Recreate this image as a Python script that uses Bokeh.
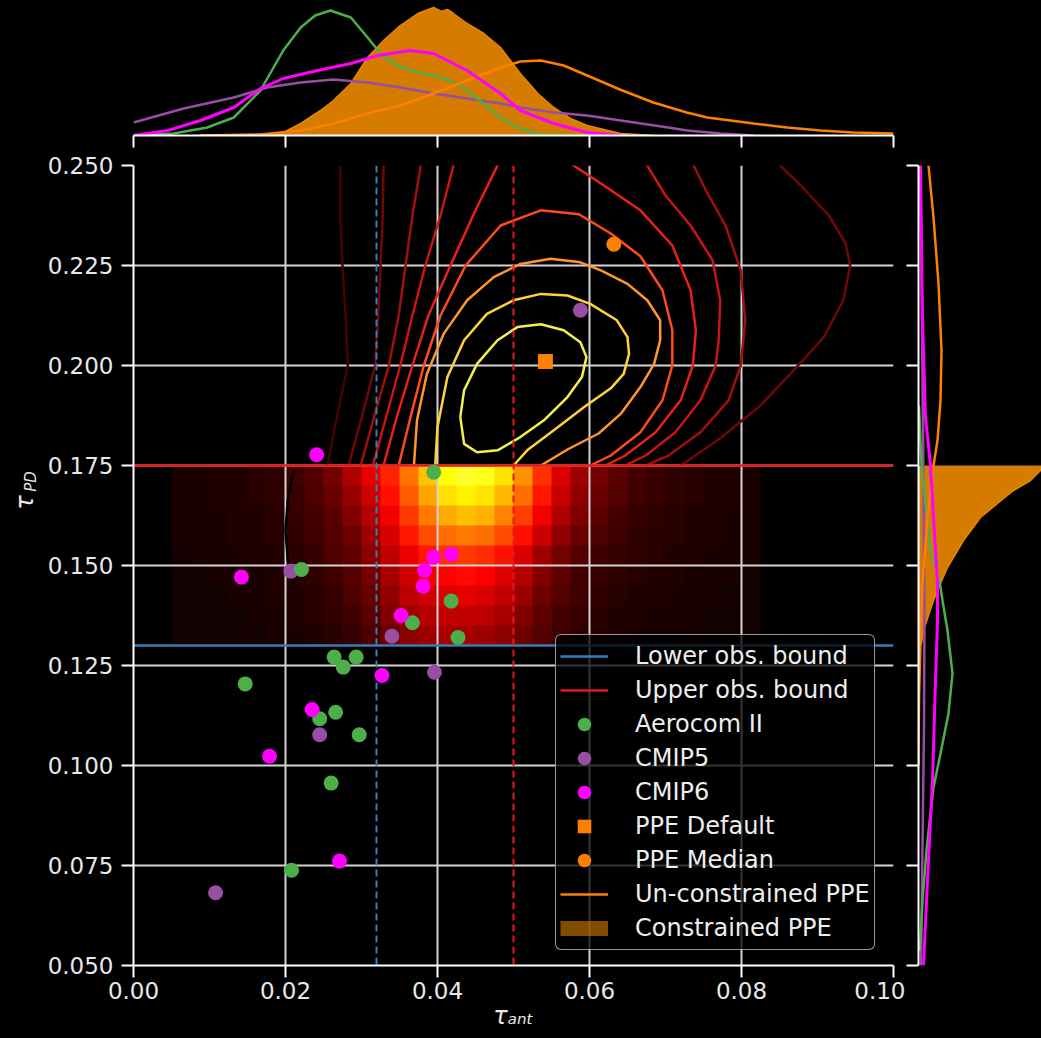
import numpy as np
from bokeh.plotting import figure
from bokeh.layouts import column, row
from bokeh.models import (FixedTicker, NumeralTickFormatter, CustomJSTickFormatter, Label,
                          Legend, LegendItem, LinearColorMapper, Spacer, Range1d, ColumnDataSource)
from bokeh.embed import file_html
from bokeh.resources import INLINE

# ---------------- data ----------------
lower_obs = 0.13
upper_obs = 0.175
lower_ant = 0.032
upper_ant = 0.05

aerocom_x = [0.0395, 0.0221, 0.0418, 0.0367, 0.0427, 0.0264, 0.0293, 0.0276, 0.0147, 0.0266, 0.0245, 0.0297, 0.0260, 0.0208]
aerocom_y = [0.1733, 0.1490, 0.1411, 0.1357, 0.1320, 0.1271, 0.1271, 0.1246, 0.1204, 0.1133, 0.1117, 0.1077, 0.0956, 0.0738]
cmip5_x = [0.0588, 0.0207, 0.0340, 0.0396, 0.0245, 0.0108]
cmip5_y = [0.2138, 0.1486, 0.1323, 0.1233, 0.1077, 0.0682]
cmip6_x = [0.0241, 0.0142, 0.0395, 0.0418, 0.0383, 0.0381, 0.0352, 0.0327, 0.0235, 0.0179, 0.0271]
cmip6_y = [0.1777, 0.1471, 0.1521, 0.1528, 0.1488, 0.1448, 0.1375, 0.1225, 0.1140, 0.1023, 0.0761]
ppe_default_x = [0.0542]
ppe_default_y = [0.2010]
ppe_median_x = [0.0632]
ppe_median_y = [0.2303]

# 2-D histogram of the constrained PPE (rows top -> bottom, % of colour scale)
hist_x0, hist_x1 = 0.005, 0.0825
hist_y0, hist_y1 = 0.13, 0.175
hist_rows = [
    [4,4,5,5,6,7,9,12,17,25,33,42,54,66,75,79,77,70,58,44,32,23,17,13,10,8,7,6,5,5,4],
    [4,4,5,5,6,7,8,11,15,22,30,39,50,61,70,73,71,64,53,40,29,21,15,12,9,8,7,6,5,5,4],
    [4,4,4,5,5,6,8,10,13,19,26,35,45,55,62,65,63,56,46,35,25,18,13,10,8,7,6,5,5,4,4],
    [4,4,4,5,5,6,7,9,12,16,23,31,40,48,53,55,53,48,39,29,21,15,11,9,7,6,6,5,5,4,4],
    [3,4,4,4,5,5,6,8,11,14,20,27,34,40,44,45,43,39,31,23,17,12,9,8,7,6,5,5,4,4,4],
    [3,3,4,4,4,5,6,7,9,12,17,24,30,35,37,38,36,32,26,19,14,10,8,7,6,5,5,4,4,4,3],
    [3,3,3,4,4,5,5,6,8,11,15,21,27,30,32,33,31,28,22,16,12,9,7,6,5,5,4,4,4,3,3],
    [3,3,3,3,4,4,5,6,7,9,13,18,23,26,28,28,27,24,19,14,10,8,6,5,5,4,4,4,3,3,3],
    [3,3,3,3,3,4,4,5,6,8,11,15,20,23,24,24,23,20,16,12,9,7,6,5,4,4,4,3,3,3,3],
]

# KDE contour lines of the un-constrained PPE (inner -> outer)
contour_xs = [
    [0.0430,0.0435,0.0452,0.0479,0.0505,0.0536,0.0566,0.0588,0.0596,0.0590,0.0571,0.0540,0.0509,0.0479,0.0452,0.0435,0.0430],
    [0.0397,0.0400,0.0413,0.0435,0.0465,0.0500,0.0536,0.0571,0.0601,0.0636,0.0650,0.0652,0.0645,0.0628,0.0593,0.0553,0.0518,0.0500],
    [0.0369,0.0373,0.0386,0.0408,0.0439,0.0474,0.0509,0.0549,0.0588,0.0615,0.0650,0.0676,0.0693,0.0693,0.0685,0.0667,0.0641,0.0612,0.0571,0.0536],
    [0.0349,0.0365,0.0382,0.0404,0.0437,0.0483,0.0536,0.0586,0.0628,0.0667,0.0696,0.0709,0.0709,0.0696,0.0667,0.0628,0.0601],
    [0.0329,0.0347,0.0367,0.0388,0.0417,0.0450,0.0479,0.0487,0.0571,0.0579,0.0615,0.0667,0.0709,0.0733,0.0740,0.0736,0.0720,0.0687,0.0647,0.0621],
    [0.0315,0.0333,0.0351,0.0367,0.0384,0.0404,0.0421,0.0428,0.0670,0.0676,0.0700,0.0733,0.0762,0.0772,0.0770,0.0766,0.0746,0.0713,0.0674,0.0647],
    [0.0299,0.0317,0.0336,0.0349,0.0358,0.0367,0.0378,0.0380,0.0730,0.0737,0.0753,0.0779,0.0799,0.0805,0.0799,0.0783,0.0746,0.0704,0.0674],
    [0.0283,0.0301,0.0318,0.0322,0.0325,0.0328,0.0329,0.0329,0.0845,0.0851,0.0878,0.0915,0.0937,0.0943,0.0934,0.0908,0.0871,0.0825,0.0772,0.0720],
    [0.0255,0.0268,0.0282,0.0279,0.0275,0.0272,0.0272,0.0272],
    [0.0211,0.0203,0.0200,0.0203,0.0211],
]
contour_ys = [
    [0.1871,0.1938,0.2004,0.2063,0.2096,0.2103,0.2088,0.2058,0.2021,0.1971,0.1921,0.1863,0.1821,0.1788,0.1783,0.1804,0.1871],
    [0.1750,0.1846,0.1971,0.2063,0.2129,0.2163,0.2179,0.2175,0.2154,0.2113,0.2071,0.2029,0.1979,0.1943,0.1896,0.1838,0.1788,0.1750],
    [0.1750,0.1863,0.1979,0.2079,0.2163,0.2221,0.2254,0.2267,0.2258,0.2238,0.2204,0.2163,0.2113,0.2063,0.2004,0.1946,0.1879,0.1830,0.1790,0.1750],
    [0.1750,0.1875,0.2000,0.2125,0.2250,0.2350,0.2388,0.2378,0.2330,0.2273,0.2188,0.2088,0.2000,0.1913,0.1833,0.1775,0.1750],
    [0.1750,0.1875,0.2000,0.2125,0.2250,0.2388,0.2500,0.2538,0.2538,0.2500,0.2455,0.2388,0.2300,0.2188,0.2088,0.2000,0.1913,0.1833,0.1775,0.1750],
    [0.1750,0.1875,0.2000,0.2125,0.2250,0.2375,0.2500,0.2538,0.2538,0.2500,0.2425,0.2350,0.2263,0.2163,0.2063,0.2000,0.1913,0.1833,0.1775,0.1750],
    [0.1750,0.1875,0.2000,0.2125,0.2250,0.2375,0.2500,0.2538,0.2538,0.2500,0.2438,0.2350,0.2238,0.2113,0.2000,0.1913,0.1833,0.1775,0.1750],
    [0.1750,0.1875,0.2000,0.2125,0.2250,0.2375,0.2500,0.2538,0.2538,0.2500,0.2450,0.2375,0.2305,0.2250,0.2163,0.2070,0.1993,0.1900,0.1818,0.1750],
    [0.1750,0.1875,0.2000,0.2125,0.2250,0.2375,0.2500,0.2538],
    [0.1738,0.1663,0.1588,0.1513,0.1450],
]

# top marginal (tau_ant densities, heights in panel units)
aerocom_top_x = [0, 0.0053, 0.0097, 0.0132, 0.0167, 0.0197, 0.0220, 0.0239, 0.0259, 0.0286, 0.0308, 0.0325, 0.0342, 0.0364, 0.0395, 0.0417, 0.0439, 0.0460, 0.0483, 0.0509, 0.0535, 0.058]
aerocom_top_h = [0, 2, 8, 18, 45, 85, 108, 120, 125, 118, 98, 82, 72, 65, 60, 55, 45, 32, 18, 7, 1, 0]
cmip5_top_x = [0, 0.0066, 0.0132, 0.0176, 0.0220, 0.0263, 0.0308, 0.0351, 0.0395, 0.0439, 0.0483, 0.0509, 0.0553, 0.0597, 0.0641, 0.0686, 0.0729, 0.0772, 0.0816]
cmip5_top_h = [13, 27, 38, 48, 53, 56, 53, 48, 42, 37, 32, 28, 23, 20, 15, 10, 5, 2, 0]
cmip6_top_x = [0, 0.0045, 0.0088, 0.0132, 0.0167, 0.0197, 0.0242, 0.0286, 0.0321, 0.0364, 0.0395, 0.0439, 0.0483, 0.0509, 0.0553, 0.0597, 0.0641]
cmip6_top_h = [0, 5, 15, 28, 47, 57, 65, 72, 80, 85, 82, 65, 42, 25, 12, 3, 0]
unc_top_x = [0.0088, 0.0167, 0.0220, 0.0263, 0.0308, 0.0351, 0.0395, 0.0439, 0.0483, 0.0509, 0.0536, 0.0566, 0.0597, 0.0640, 0.0684, 0.0728, 0.0755, 0.0816, 0.0860, 0.0904, 0.0947, 0.1]
unc_top_h = [0, 1, 5, 12, 22, 30, 42, 55, 68, 74, 75, 70, 60, 46, 33, 23, 18, 12, 8, 5, 3, 2]
con_top_x = [0.0132, 0.0167, 0.0197, 0.0220, 0.0246, 0.0263, 0.0286, 0.0308, 0.0329, 0.0351, 0.0374, 0.0395, 0.0405, 0.0413, 0.0421, 0.0439, 0.0461, 0.0483, 0.0509, 0.0532, 0.0553, 0.0575, 0.0597, 0.0641, 0.0684]
con_top_h = [0, 1, 3, 12, 25, 35, 52, 78, 95, 110, 122, 128, 124, 126, 122, 112, 102, 88, 62, 42, 28, 17, 10, 2, 0]

# right marginal (tau_PD densities, widths in panel units)
unc_right_y = [0.25, 0.237, 0.2205, 0.20375, 0.19125, 0.18125, 0.175, 0.162, 0.1455, 0.13125, 0.11625, 0.10]
unc_right_w = [10, 15, 20, 23, 22, 19, 15, 9, 4, 2, 0.5, 0]
cmip6_right_y = [0.25, 0.212, 0.187, 0.175, 0.162, 0.1455, 0.1363, 0.1213, 0.0963, 0.0713, 0.05]
cmip6_right_w = [2, 4, 7, 12, 15, 19, 19, 17, 14, 9, 5]
aerocom_right_y = [0.19, 0.175, 0.1705, 0.15375, 0.14625, 0.14125, 0.13375, 0.123, 0.113, 0.103, 0.0945, 0.088, 0.07875, 0.06625, 0.05375]
aerocom_right_w = [0.5, 3, 5, 12, 21, 24, 29, 34, 30, 22, 15, 12, 8, 4, 1.5]
cmip5_right_y = [0.25, 0.21, 0.17, 0.14, 0.11, 0.08, 0.05]
cmip5_right_w = [2, 3.5, 5, 6, 5.5, 4, 2.5]
con_right_y = [0.175, 0.17375, 0.17125, 0.16875, 0.1655, 0.162, 0.15625, 0.1495, 0.1455, 0.14125, 0.13375, 0.1305, 0.129]
con_right_w = [124, 122, 112, 95, 79, 62, 45, 29, 22, 15, 5, 3, 0]

x_ticks = [0.0, 0.02, 0.04, 0.06, 0.08, 0.10]
y_ticks = [0.05, 0.075, 0.10, 0.125, 0.15, 0.175, 0.20, 0.225, 0.25]

# ---------------- style ----------------
BLUE = "#377eb8"; RED = "#e41a1c"; GREEN = "#4daf4a"; PURPLE = "#984ea3"
MAGENTA = "#ff00ff"; ORANGE = "#ff7f00"; FILL = "#d47b00"
TXT = "#e8e8e8"; FONT = "DejaVu Sans"
contour_colors = ["#f4f04a", "#ffd23c", "#ff962a", "#ff4a1a", "#e8201a", "#c81414",
                  "#a00e0e", "#6e0808", "#420404", "#000000"]

def hot(f):
    r = min(1.0, f / 0.365)
    g = min(1.0, max(0.0, (f - 0.365) / 0.381))
    b = min(1.0, max(0.0, (f - 0.746) / 0.254))
    return "#%02x%02x%02x" % (int(r * 255), int(g * 255), int(b * 255))

hot_palette = [hot(i / 255) for i in range(256)]

xr = Range1d(0, 0.1)
yr = Range1d(0.05, 0.25)

common = dict(output_backend="svg", toolbar_location=None, background_fill_color="black",
              border_fill_color="black", outline_line_color=None)

def style_axis(ax, labels=True):
    ax.axis_line_color = "white"
    ax.axis_line_width = 2
    ax.major_tick_line_color = "white"
    ax.major_tick_line_width = 2
    ax.major_tick_out = 12
    ax.major_tick_in = 0
    ax.minor_tick_line_color = None
    if labels:
        ax.major_label_text_color = TXT
        ax.major_label_text_font = FONT
        ax.major_label_text_font_size = "23px"
    else:
        ax.formatter = CustomJSTickFormatter(code="return ''")
        ax.major_label_text_font_size = "0px"
        ax.major_label_standoff = 0

# ---------------- main panel ----------------
main = figure(width=863, height=888, x_range=xr, y_range=yr,
              min_border_left=91, min_border_right=12, min_border_top=15, min_border_bottom=73,
              **common)
main.xaxis.ticker = FixedTicker(ticks=x_ticks)
main.yaxis.ticker = FixedTicker(ticks=y_ticks)
main.xaxis.formatter = NumeralTickFormatter(format="0.00")
main.yaxis.formatter = NumeralTickFormatter(format="0.000")
style_axis(main.xaxis[0]); style_axis(main.yaxis[0])
main.xaxis.major_label_standoff = 4
main.yaxis.major_label_standoff = 8
main.xaxis.axis_label = "τₐₙₜ"
main.xaxis.axis_label_text_font = FONT
main.xaxis.axis_label_text_font_style = "italic"
main.xaxis.axis_label_text_font_size = "24px"
main.xaxis.axis_label_text_color = TXT
main.xaxis.axis_label_standoff = 0
main.xgrid.ticker = FixedTicker(ticks=x_ticks)
main.ygrid.ticker = FixedTicker(ticks=y_ticks)
main.grid.grid_line_color = "#d4d4d4"
main.grid.grid_line_width = 2

img = np.array(hist_rows[::-1], dtype=float)
mapper = LinearColorMapper(palette=hot_palette, low=0, high=100)
main.image(image=[img], x=hist_x0, y=hist_y0, dw=hist_x1 - hist_x0, dh=hist_y1 - hist_y0,
           color_mapper=mapper, level="image")

csrc = ColumnDataSource(dict(xs=contour_xs, ys=contour_ys, c=contour_colors))
main.multi_line(xs="xs", ys="ys", line_color="c", line_width=2.5, line_join="round", source=csrc)

main.hspan(y=[lower_obs], line_color=BLUE, line_width=2.5)
main.hspan(y=[upper_obs], line_color=RED, line_width=2.5)
main.vspan(x=[lower_ant], line_color=BLUE, line_width=2, line_dash="7 4")
main.vspan(x=[upper_ant], line_color=RED, line_width=2, line_dash="7 4")

r_c5 = main.scatter(cmip5_x, cmip5_y, marker="circle", size=15, fill_color=PURPLE, fill_alpha=1.0, line_color=None)
r_ae = main.scatter(aerocom_x, aerocom_y, marker="circle", size=15, fill_color=GREEN, fill_alpha=1.0, line_color=None)
r_c6 = main.scatter(cmip6_x, cmip6_y, marker="circle", size=15, fill_color=MAGENTA, fill_alpha=1.0, line_color=None)
r_def = main.scatter(ppe_default_x, ppe_default_y, marker="square", size=15, fill_color=ORANGE, fill_alpha=1.0, line_color=None)
r_med = main.scatter(ppe_median_x, ppe_median_y, marker="circle", size=15, fill_color=ORANGE, fill_alpha=1.0, line_color=None)

nan = [float("nan")]
l_low = main.line(nan, nan, line_color=BLUE, line_width=2.5)
l_up = main.line(nan, nan, line_color=RED, line_width=2.5)
l_unc = main.line(nan, nan, line_color=ORANGE, line_width=2.5)
l_con = main.line(nan, nan, line_color=FILL, line_alpha=0.62, line_width=15, line_cap="butt")

legend = Legend(items=[
    LegendItem(label="Lower obs. bound", renderers=[l_low]),
    LegendItem(label="Upper obs. bound", renderers=[l_up]),
    LegendItem(label="Aerocom II", renderers=[r_ae]),
    LegendItem(label="CMIP5", renderers=[r_c5]),
    LegendItem(label="CMIP6", renderers=[r_c6]),
    LegendItem(label="PPE Default", renderers=[r_def]),
    LegendItem(label="PPE Median", renderers=[r_med]),
    LegendItem(label="Un-constrained PPE", renderers=[l_unc]),
    LegendItem(label="Constrained PPE", renderers=[l_con]),
], location=(422, 15))
legend.label_text_font = FONT
legend.label_text_font_size = "24px"
legend.label_text_color = "#eeeeee"
legend.glyph_width = 48
legend.glyph_height = 34
legend.label_height = 34
legend.label_standoff = 27
legend.spacing = 0
legend.padding = 4
legend.margin = 0
legend.background_fill_color = "black"
legend.background_fill_alpha = 0.75
legend.border_line_color = "#aaaaaa"
legend.border_line_width = 1.5
legend.border_line_alpha = 0.9
legend.border_radius = 6
main.add_layout(legend)

# ---------------- y-axis label strip ----------------
ylab = figure(width=42, height=888, x_range=Range1d(0, 1), y_range=Range1d(0, 1),
              x_axis_location=None, y_axis_location=None, min_border=0, **common)
ylab.grid.visible = False
lab = dict(x_units="screen", y_units="screen", text_color=TXT, text_font=FONT,
           text_font_style="italic", text_align="center", text_baseline="middle", angle=np.pi / 2)
ylab.add_layout(Label(x=24, y=463, text="τ", text_font_size="24px", **lab))
ylab.add_layout(Label(x=30, y=484, text="PD", text_font_size="15px", **lab))

# ---------------- top marginal ----------------
top = figure(width=905, height=150, x_range=xr, y_range=Range1d(0, 135), y_axis_location=None,
             min_border_left=133, min_border_right=12, min_border_top=0, min_border_bottom=15,
             **common)
top.grid.visible = False
top.xaxis.ticker = FixedTicker(ticks=x_ticks)
style_axis(top.xaxis[0], labels=False)
top.varea(x=con_top_x, y1=0, y2=con_top_h, fill_color=FILL, fill_alpha=1.0)
top.line(con_top_x, con_top_h, line_color="#e38700", line_width=1.5)
top.line(cmip5_top_x, cmip5_top_h, line_color=PURPLE, line_width=2.5)
top.line(aerocom_top_x, aerocom_top_h, line_color=GREEN, line_width=2.5)
top.line(unc_top_x, unc_top_h, line_color=ORANGE, line_width=2.5)
top.line(cmip6_top_x, cmip6_top_h, line_color=MAGENTA, line_width=3)

# ---------------- right marginal ----------------
right = figure(width=136, height=888, x_range=Range1d(0, 123), y_range=yr, x_axis_location=None,
               min_border_left=13, min_border_right=0, min_border_top=15, min_border_bottom=73,
               **common)
right.grid.visible = False
right.yaxis.ticker = FixedTicker(ticks=y_ticks)
style_axis(right.yaxis[0], labels=False)
right.harea(y=con_right_y, x1=0, x2=con_right_w, fill_color=FILL, fill_alpha=1.0)
right.line(con_right_w, con_right_y, line_color="#e38700", line_width=1.5)
right.line(cmip5_right_w, cmip5_right_y, line_color=PURPLE, line_width=2.5)
right.line(aerocom_right_w, aerocom_right_y, line_color=GREEN, line_width=2.5)
right.line(unc_right_w, unc_right_y, line_color=ORANGE, line_width=2.5)
right.line(cmip6_right_w, cmip6_right_y, line_color=MAGENTA, line_width=3)

spacer = Spacer(width=136, height=150, styles={"background-color": "black"})
layout = column(row(top, spacer), row(ylab, main, right))

html = file_html(layout, INLINE, title="jointplot")
html = html.replace("</head>", "<style>html,body{margin:0;padding:0;background:#000;}</style></head>")
open("out.html", "w").write(html)
